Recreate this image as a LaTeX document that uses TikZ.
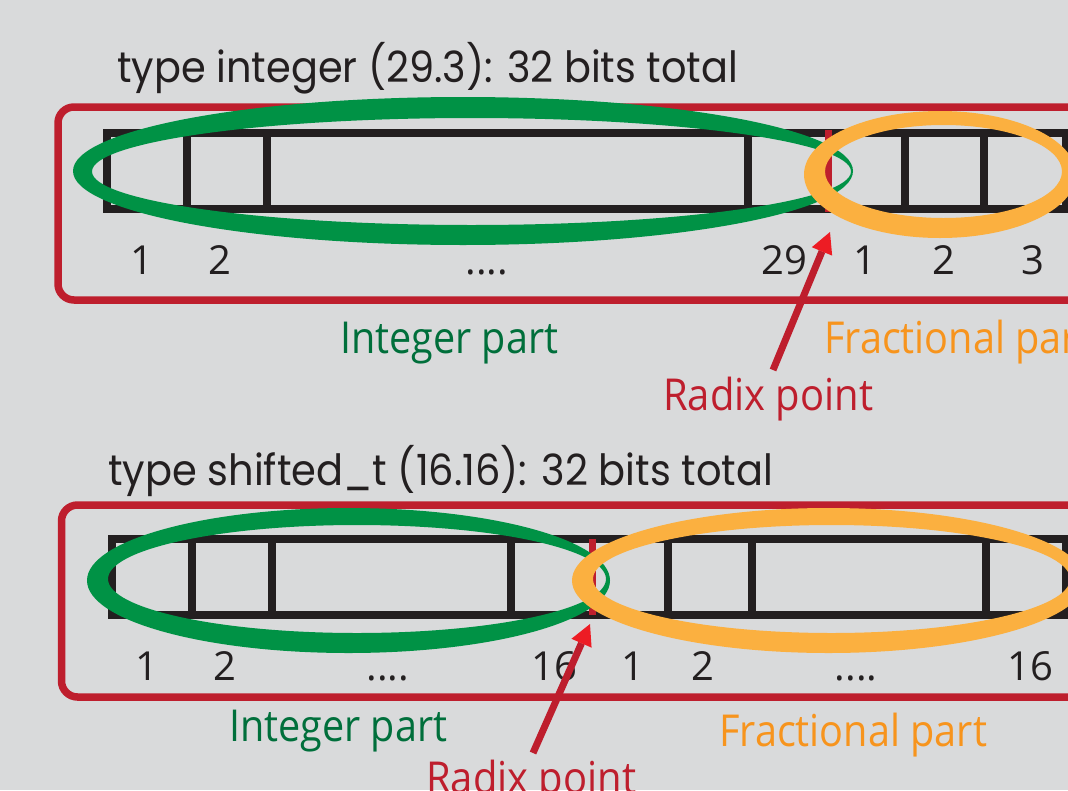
\documentclass[tikz,border=0pt]{standalone}
\usepackage{fontspec}
\usepackage{graphicx}
\setmainfont{Open Sans}
\newfontfamily\titlefont{Poppins}
\usetikzlibrary{arrows.meta}
\definecolor{bg}{HTML}{D9DADB}
\definecolor{framered}{HTML}{BE1E2D}
\definecolor{ringgreen}{HTML}{009245}
\definecolor{textgreen}{HTML}{006F3B}
\definecolor{ringorange}{HTML}{FBB040}
\definecolor{textorange}{HTML}{F7941D}
\definecolor{tipred}{HTML}{ED1C24}
\definecolor{barblack}{HTML}{231F20}
\newcommand{\fitw}[2]{\resizebox{#1}{\height}{#2}}
\tikzset{
  regframe/.style={draw=framered, line width=7.5pt, rounded corners=16pt},
  bar/.style={draw=barblack, line width=8pt},
  radixline/.style={draw=framered, line width=7pt},
  greenring/.style={fill=ringgreen, even odd rule},
  orangering/.style={fill=ringorange, even odd rule},
  radixarrow/.style={draw=framered, line width=7pt,
    -{Triangle[length=21pt,width=22pt,line width=0pt,color=tipred]}},
  title/.style={inner sep=0pt, anchor=base west, text=barblack,
    font=\titlefont\fontsize{43}{48}\selectfont},
  partlbl/.style={inner sep=0pt, anchor=base west,
    font=\fontsize{44}{50}\selectfont},
  bitlbl/.style={inner sep=0pt, anchor=base, text=barblack,
    font=\fontsize{40}{46}\selectfont},
}
\begin{document}
\begin{tikzpicture}[x=1pt,y=-1pt]
\useasboundingbox (0,0) rectangle (1068,790);
\clip (0,0) rectangle (1068,790);
\fill[bg] (0,0) rectangle (1068,790);

% ---------- top register ----------
\node[title] (titleA) at (117,82) {\fitw{621pt}{type integer (29.3): 32 bits total}};
\draw[regframe] (58,107) rectangle (1110,300);
\draw[bar] (107,133) rectangle (1066,209);
\foreach \x in {187,267,748,905,984} \draw[bar] (\x,133) -- (\x,209);
\draw[radixline] (828.5,130) -- (828.5,212);
\fill[greenring] (463,171) ellipse [x radius=390pt, y radius=74pt]
                 (471.5,171.5) ellipse [x radius=379.5pt, y radius=53.5pt];
\fill[orangering] (940,174.5) ellipse [x radius=136pt, y radius=63.5pt]
                  (943.5,171.5) ellipse [x radius=118.5pt, y radius=46.5pt];

\node[bitlbl] (a1) at (142,274) {1};
\node[bitlbl] (a2) at (220,274) {2};
\node[bitlbl] (adots) at (487,274) {....};
\node[bitlbl] (a29) at (784,274) {29};
\node[bitlbl] (af1) at (865,274) {1};
\node[bitlbl] (af2) at (944,274) {2};
\node[bitlbl] (af3) at (1033,274) {3};

\node[partlbl, text=textgreen] (intA) at (340,353) {\fitw{218pt}{Integer part}};
\node[partlbl, text=textorange] (fracA) at (824,353) {\fitw{268pt}{Fractional part}};
\node[partlbl, text=framered] (radixA) at (663,410) {\fitw{210pt}{Radix point}};
\coordinate (tailA) at (773,370);
\coordinate (tipA) at (830,232);
\draw[radixarrow] (tailA) -- (tipA);

% ---------- bottom register ----------
\node[title] (titleB) at (108,485) {\fitw{665pt}{type shifted\_t (16.16): 32 bits total}};
\draw[regframe] (61.5,505) rectangle (1110,697);
\draw[bar] (112,539) rectangle (1066,614.5);
\foreach \x in {192,272,511,668,752,986} \draw[bar] (\x,539) -- (\x,614.5);
\draw[radixline] (592,539) -- (592,615);
\fill[greenring] (348.5,580.5) ellipse [x radius=261.5pt, y radius=72.5pt]
                 (357,579) ellipse [x radius=249pt, y radius=54pt];
\fill[orangering] (828.5,580.5) ellipse [x radius=256.5pt, y radius=72.5pt]
                  (831.5,579) ellipse [x radius=238.5pt, y radius=54pt];

\node[bitlbl] (b1) at (147,680) {1};
\node[bitlbl] (b2) at (225,680) {2};
\node[bitlbl] (bdots) at (388,680) {....};
\node[bitlbl] (b16) at (554,680) {16};
\node[bitlbl] (bf1) at (633,680) {1};
\node[bitlbl] (bf2) at (703,680) {2};
\node[bitlbl] (bfdots) at (856,680) {....};
\node[bitlbl] (bf16) at (1030,680) {16};

\node[partlbl, text=textgreen] (intB) at (229,741) {\fitw{218pt}{Integer part}};
\node[partlbl, text=textorange] (fracB) at (719,746) {\fitw{268pt}{Fractional part}};
\node[partlbl, text=framered] (radixB) at (426,793) {\fitw{210pt}{Radix point}};
\coordinate (tailB) at (533,753);
\coordinate (tipB) at (590,624);
\draw[radixarrow] (tailB) -- (tipB);
\end{tikzpicture}
\end{document}
